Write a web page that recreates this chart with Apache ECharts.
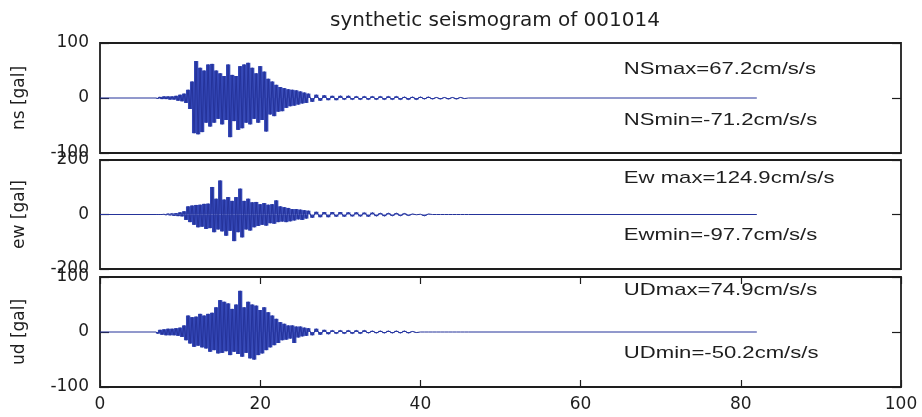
<!DOCTYPE html>
<html><head><meta charset="utf-8">
<script src="https://cdn.jsdelivr.net/npm/echarts@6/dist/echarts.min.js"></script>
<style>html,body{margin:0;padding:0;background:#fff}#c{width:922px;height:417px}</style>
</head><body><div id="c"></div>
<script>
// ---------- data ----------
const titleText = 'synthetic seismogram of 001014';
const componentNames = ['ns [gal]', 'ew [gal]', 'ud [gal]'];
const yLimits = [100, 200, 100];
const xTickValues = [0, 20, 40, 60, 80, 100];

const times = [0,
 7,7.25,7.5,7.75,8,8.25,8.5,8.75,9,9.25,9.5,9.75,10,10.25,10.5,10.75,11,11.25,11.5,11.75,
 12,12.25,12.5,12.75,13,13.25,13.5,13.75,14,14.25,14.5,14.75,15,15.25,15.5,15.75,16,16.25,16.5,16.75,
 17,17.25,17.5,17.75,18,18.25,18.5,18.75,19,19.25,19.5,19.75,20,20.25,20.5,20.75,21,21.25,21.5,21.75,
 22,22.25,22.5,22.75,23,23.25,23.5,23.75,24,24.25,24.5,24.75,25,25.25,25.5,25.75,26,
 26.5,27,27.5,28,28.5,29,29.5,30,30.5,31,31.5,32,32.5,33,33.5,34,34.5,35,35.5,36,
 36.5,37,37.5,38,38.5,39,39.5,40,40.5,41,41.5,42,42.5,43,43.5,44,44.5,45,45.5,46,
 82];

const ns = [0,
 0,-1,2,-2,3,-2,3,-3,3,-3,4,-5,6,-6,8,-9,15,-20,30,-64,
 67.2,-66,55,-62,50,-45,61,-52,62,-45,50,-38,45,-48,40,-40,61,-71.2,42,-42,
 40,-58,58,-55,61,-45,64,-48,55,-38,45,-45,58,-40,48,-61,35,-30,30,-33,
 24,-25,20,-24,18,-18,16,-15,15,-14,14,-12,12,-10,10,-9,8,
 -7,6,-5,5,-4,4,-4,4,-3,4,-3,3,-3,3,-3,3,-3,3,-3,3,
 -3,3,-3,2,-3,2,-3,2,-2,2,-2,1,-2,1,-2,1,-2,1,-1,0,
 0];

const ew = [0,
 0,0,0,0,1,-2,3,-3,4,-5,5,-6,8,-7,12,-20,30,-28,33,-38,
 35,-47,36,-45,39,-53,40,-50,101,-65,58,-55,124.9,-62,55,-78,64,-60,50,-97.7,
 64,-65,95,-84,50,-55,58,-59,45,-47,46,-42,38,-38,42,-41,36,-32,38,-34,
 52,-28,30,-26,27,-28,24,-25,20,-22,20,-18,18,-20,16,-15,14,
 -12,10,-10,9,-10,9,-8,9,-8,8,-7,8,-7,7,-8,7,-6,5,-6,5,
 -5,5,-5,4,-4,2,-1,1,-5,2,0,0,0,0,0,0,0,0,0,0,
 0];

const ud = [0,
 0,-3,4,-5,5,-6,6,-6,6,-6,7,-7,8,-9,12,-15,30,-21,27,-27,
 28,-25,33,-28,30,-30,33,-36,35,-33,45,-39,58,-38,55,-35,52,-42,42,-36,
 50,-40,74.9,-45,45,-38,55,-48,50,-50.2,48,-42,40,-39,45,-33,36,-28,30,-24,
 24,-20,18,-15,15,-14,12,-12,12,-20,10,-10,10,-8,8,-7,7,
 -6,6,-5,4,-4,3,-3,3,-3,3,-3,3,-3,3,-2,2,-2,2,-2,2,
 -2,2,-2,2,-2,1,-1,0,0,0,0,0,0,0,0,0,0,0,0,0,
 0];

const annotationTexts = [
  ['NSmax=67.2cm/s/s', 'NSmin=-71.2cm/s/s'],
  ['Ew max=124.9cm/s/s', 'Ewmin=-97.7cm/s/s'],
  ['UDmax=74.9cm/s/s', 'UDmin=-50.2cm/s/s']
];

// ---------- layout / style ----------
const annotationX = 65.4;
const annotationY = [[53, -40], [134, -78], [76, -38]];
const gridTops = [43, 160, 277];
const gridHeights = [110, 109, 110];
const ink = '#1e1e1e';
const waveColor = '#3447b6';
const lineColor = '#25339a';
const labelFont = 'DejaVu Sans';

const seriesValues = [ns, ew, ud];
const grids = [], xAxes = [], yAxes = [], series = [];

for (let i = 0; i < 3; i++) {
  grids.push({left: 100, right: 21, top: gridTops[i], height: gridHeights[i],
    show: true, borderColor: ink, borderWidth: 1.8, backgroundColor: '#fff'});
  const last = i === 2;
  const xi = xAxes.length;
  xAxes.push({gridIndex: i, type: 'value', min: xTickValues[0], max: xTickValues[xTickValues.length-1],
    interval: xTickValues[1] - xTickValues[0], position: 'bottom',
    axisLine: {show: false, onZero: false}, splitLine: {show: false},
    axisTick: {show: last, inside: true, length: 7, lineStyle: {color: ink, width: 1.2}},
    axisLabel: {show: last, margin: 9, fontFamily: labelFont, fontSize: 17, color: ink}});
  if (last) {
    xAxes.push({gridIndex: i, type: 'value', min: xTickValues[0], max: xTickValues[xTickValues.length-1],
      interval: xTickValues[1] - xTickValues[0], position: 'top',
      axisLine: {show: false, onZero: false}, splitLine: {show: false},
      axisTick: {show: true, inside: true, length: 7, lineStyle: {color: ink, width: 1.2}},
      axisLabel: {show: false}});
  }
  const L = yLimits[i];
  const yi = yAxes.length;
  yAxes.push({gridIndex: i, type: 'value', min: -L, max: L, interval: L, position: 'left',
    axisLine: {show: false, onZero: false}, splitLine: {show: false},
    axisTick: {show: true, inside: true, length: 9, lineStyle: {color: ink, width: 1.2}},
    axisLabel: {margin: 11, fontFamily: labelFont, fontSize: 17, color: ink},
    name: componentNames[i], nameLocation: 'middle', nameGap: 72,
    nameTextStyle: {fontFamily: labelFont, fontSize: 17, color: ink}});
  yAxes.push({gridIndex: i, type: 'value', min: -L, max: L, interval: L, position: 'right',
    axisLine: {show: false, onZero: false}, splitLine: {show: false},
    axisTick: {show: true, inside: true, length: 9, lineStyle: {color: ink, width: 1.2}},
    axisLabel: {show: false}});
  const pts = times.map((t, k) => [t, seriesValues[i][k]]);
  series.push({type: 'line', xAxisIndex: xi, yAxisIndex: yi, data: pts,
    showSymbol: false, symbol: 'none', sampling: null, animation: false,
    lineStyle: {color: lineColor, width: 1}, z: 3});
  series.push({type: 'bar', xAxisIndex: xi, yAxisIndex: yi, data: pts,
    barWidth: 4.3, animation: false, itemStyle: {color: waveColor}, z: 2});
}

const chart = echarts.init(document.getElementById('c'), null, {renderer: 'canvas'});
chart.setOption({
  backgroundColor: '#fff',
  animation: false,
  title: {text: titleText, left: 490, top: 6, textAlign: 'center',
    textStyle: {fontFamily: labelFont, fontSize: 20, fontWeight: 'normal', color: ink}},
  grid: grids, xAxis: xAxes, yAxis: yAxes, series: series
});

const graphics = [];
for (let i = 0; i < 3; i++) {
  for (let j = 0; j < 2; j++) {
    const p = chart.convertToPixel({gridIndex: i}, [annotationX, annotationY[i][j]]);
    graphics.push({type: 'text', x: p[0], y: p[1], scaleX: 1.3, z: 10,
      style: {text: annotationTexts[i][j], font: '17px "Liberation Sans"', fill: ink,
        align: 'left', verticalAlign: 'middle'}});
  }
}
chart.setOption({graphic: graphics});
</script></body></html>
